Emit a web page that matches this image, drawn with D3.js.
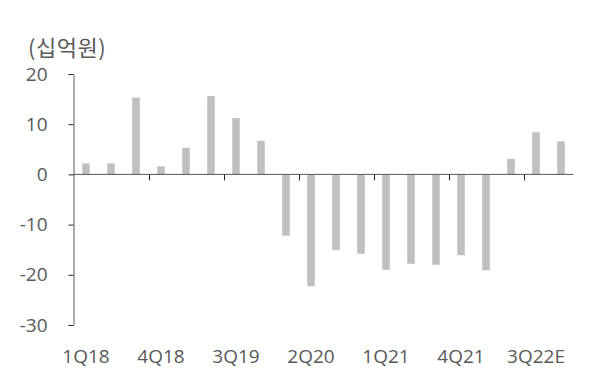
<!DOCTYPE html>
<html><head><meta charset="utf-8">
<script src="https://cdn.jsdelivr.net/npm/d3@7"></script>
<style>body{margin:0;background:#fff}svg{display:block}text{font-family:"Open Sans","Noto Sans CJK KR",sans-serif;fill:#595959}</style>
</head><body><svg id="c" width="603" height="376"></svg>
<script>
const categories = ["1Q18","2Q18","3Q18","4Q18","1Q19","2Q19","3Q19","4Q19","1Q20","2Q20","3Q20","4Q20","1Q21","2Q21","3Q21","4Q21","1Q22","2Q22","3Q22E","4Q22E"];
const values = [2.2,2.2,15.3,1.6,5.3,15.6,11.2,6.7,-12.2,-22.3,-15.1,-15.8,-19.0,-17.8,-18.0,-16.1,-19.1,3.1,8.4,6.6];
const yTicks = [-30,-20,-10,0,10,20];
const xLabels = ["1Q18","4Q18","3Q19","2Q20","1Q21","4Q21","3Q22E"];
const unit = "(십억원)";

const svg = d3.select("#c");
const x = d3.scaleBand().domain(categories).range([73.5, 573.5]).paddingInner(0.7).paddingOuter(0.35);
const y = d3.scaleLinear().domain([-30, 20]).range([325, 74]);

svg.append("text").attr("x", 28).attr("y", 56).attr("font-size", 22).attr("letter-spacing", 0.5).text(unit)
  .style("font-family", '"Noto Sans CJK KR",sans-serif');

svg.selectAll("rect.bar").data(values).enter().append("rect")
  .attr("x", (d, i) => x(categories[i]))
  .attr("width", x.bandwidth())
  .attr("y", d => y(Math.max(0, d)))
  .attr("height", d => Math.abs(y(d) - y(0)))
  .attr("fill", "#bfbfbf");

// y axis
const ya = svg.append("g").attr("transform", "translate(73.5,0)")
  .call(d3.axisLeft(y).tickValues(yTicks).tickFormat(d => String(d)).tickSize(5).tickPadding(21).tickSizeOuter(0));
ya.select(".domain").attr("stroke", "#595959");
ya.selectAll(".tick line").attr("stroke", "#222");
ya.selectAll(".tick text").attr("font-size", 19).attr("fill", "#595959")
  .style("font-family", '"Open Sans",sans-serif');

// x axis at zero
const step = x.step();
const tickPos = d3.range(3, categories.length, 3).map(k => x.range()[0] + k * step);
const xa = svg.append("g");
xa.append("line").attr("x1", 73.5).attr("x2", 573.5).attr("y1", y(0)).attr("y2", y(0)).attr("stroke", "#595959");
xa.selectAll("line.t").data(tickPos).enter().append("line")
  .attr("x1", d => Math.round(d) + 0.5).attr("x2", d => Math.round(d) + 0.5)
  .attr("y1", y(0)).attr("y2", y(0) + 6).attr("stroke", "#222");

svg.selectAll("text.xl").data(xLabels).enter().append("text")
  .attr("x", d => x(d) + x.bandwidth() / 2)
  .attr("y", 363).attr("text-anchor", "middle").attr("font-size", 19).text(d => d);
</script></body></html>
